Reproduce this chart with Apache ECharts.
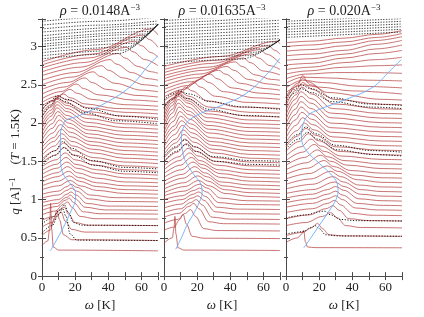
<!DOCTYPE html>
<html><head><meta charset="utf-8">
<script src="https://cdn.jsdelivr.net/npm/echarts@6/dist/echarts.min.js"></script>
<style>html,body{margin:0;padding:0;background:#fff}#c{width:424px;height:317px}</style>
</head><body><div id="c"></div>
<script>
// ---------- data (omega [K], q [1/A]) ----------
const densities = ['0.0148', '0.01635', '0.020'];
const xTickValues = [0, 20, 40, 60];
const yTickValues = [0, 0.5, 1, 1.5, 2, 2.5, 3];

// panel 1 red curves (flat omega,value pairs)
const p1Red = [
 [0,.40, 3.5,.46, 4.6,.62, 5.2,.95, 5.8,.62, 6.8,.38, 10,.34, 70,.33],
 [0,.53, 5,.60, 7.5,.76, 9,.86, 10.5,.74, 13,.54, 18,.475, 70,.465],
 [0,.64, 6,.70, 9.5,.80, 11.5,.84, 14,.72, 18,.61, 26,.575, 70,.57],
 [0,.73, 7,.78, 11,.87, 13.5,.90, 16,.81, 20,.70, 28,.665, 70,.66],
 [0,.80, 8,.85, 13,.94, 15.5,.97, 18,.90, 23,.78, 32,.75, 70,.745],
 [0,.86, 9,.91, 14,.99, 16.5,1.02, 19,.96, 25,.84, 35,.815, 70,.81],
 [0,.91, 9,.95, 15,1.03, 17,1.06, 20,1.01, 26,.90, 38,.865, 70,.86],
 [0,.96, 10,1.0, 15,1.07, 17.5,1.10, 20.5,1.06, 27,.95, 40,.915, 70,.91],
 [0,1.02, 10,1.06, 15,1.12, 17.5,1.15, 21,1.11, 28,1.01, 42,.975, 70,.97],
 [0,1.07, 10,1.11, 15,1.17, 17.5,1.20, 21,1.16, 29,1.06, 44,1.025, 70,1.02],
 [0,1.13, 10,1.18, 17,1.25, 23,1.18, 33,1.12, 50,1.08, 70,1.07],
 [0,1.18, 10,1.24, 16.5,1.31, 22.5,1.24, 33,1.17, 50,1.13, 70,1.12],
 [0,1.23, 9.5,1.30, 16,1.37, 22,1.29, 33,1.22, 50,1.18, 70,1.17],
 [0,1.28, 9,1.35, 15.5,1.43, 21.5,1.35, 33,1.28, 50,1.23, 70,1.22],
 [0,1.33, 9,1.41, 15,1.49, 21,1.41, 33,1.34, 50,1.285, 70,1.27],
 [0,1.38, 8.5,1.46, 14.5,1.55, 20.5,1.46, 33,1.39, 50,1.335, 70,1.32],
 [0,1.43, 8.5,1.52, 14,1.61, 20,1.52, 32,1.45, 50,1.39, 70,1.37],
 [0,1.48, 8,1.58, 13.5,1.68, 19.5,1.58, 32,1.50, 50,1.44, 70,1.42],
 [0,1.53, 8,1.64, 13,1.74, 19,1.64, 31,1.55, 50,1.49, 70,1.47],
 [0,1.58, 7.5,1.70, 12.5,1.80, 18.5,1.70, 31,1.61, 50,1.54, 70,1.52],
 [0,1.63, 7,1.76, 12,1.86, 18,1.76, 30,1.66, 50,1.59, 70,1.57],
 [0,1.68, 7,1.81, 11.5,1.92, 17.5,1.82, 30,1.71, 50,1.64, 70,1.62],
 [0,1.73, 6.5,1.87, 11,1.98, 17,1.88, 29,1.76, 50,1.69, 70,1.67],
 [0,1.78, 6,1.93, 10.5,2.04, 16.5,1.94, 29,1.81, 50,1.74, 70,1.72],
 [0,1.83, 6,1.99, 10,2.10, 16,2.00, 28,1.86, 50,1.79, 70,1.77],
 [0,1.88, 5.5,2.04, 9.5,2.15, 15.5,2.05, 28,1.91, 50,1.84, 70,1.82],
 [0,1.93, 5.5,2.09, 9,2.20, 15,2.10, 27,1.96, 50,1.89, 70,1.87],
 [0,1.98, 5.5,2.13, 9,2.24, 15,2.15, 27,2.01, 50,1.94, 70,1.92],
 [0,2.03, 5.5,2.17, 9,2.28, 15,2.19, 27,2.06, 50,1.99, 70,1.97],
 [0,2.08, 5.5,2.21, 9,2.31, 15,2.23, 27,2.11, 50,2.04, 70,2.02],
 [0,2.13, 5.5,2.24, 9,2.33, 15,2.26, 27,2.15, 50,2.09, 70,2.07],
 [0,2.18, 6,2.28, 9.5,2.35, 15.5,2.30, 28,2.20, 50,2.14, 70,2.12],
 [0,2.22, 7,2.30, 13,2.38, 17,2.33, 26,2.25, 45,2.19, 70,2.17],
 [0,2.27, 9,2.35, 17,2.44, 21,2.39, 30,2.31, 50,2.24, 70,2.22],
 [0,2.32, 11,2.41, 21,2.51, 25,2.45, 34,2.37, 55,2.30, 70,2.28],
 [0,2.38, 13,2.47, 26,2.59, 30,2.53, 39,2.44, 58,2.36, 70,2.34],
 [0,2.44, 15,2.53, 31,2.67, 35,2.61, 44,2.52, 60,2.43, 70,2.41],
 [0,2.50, 18,2.60, 36,2.75, 40,2.69, 49,2.59, 62,2.50, 70,2.48],
 [0,2.56, 20,2.66, 41,2.83, 45,2.77, 54,2.66, 64,2.58, 70,2.56],
 [0,2.62, 23,2.73, 46,2.91, 50,2.85, 58,2.74, 66,2.67, 70,2.65],
 [0,2.67, 25,2.79, 51,2.99, 55,2.93, 62,2.83, 70,2.75],
 [0,2.72, 28,2.85, 56,3.07, 60,3.01, 66,2.92, 70,2.86],
 [0,2.76, 30,2.90, 61,3.15, 65,3.09, 70,2.99],
 [0,2.80, 33,2.96, 66,3.23, 70,3.15]
];
const p1Dot = [
 [0,.56, 6,.66, 10,.80, 12.5,.88, 14.5,.78, 17,.55, 21,.47, 70,.465],
 [0,.68, 6,.76, 10.5,.86, 13.5,.93, 16,.83, 19,.70, 24,.665, 70,.66],
 [0,1.44, 8,1.58, 13,1.68, 19,1.58, 31,1.45, 50,1.37, 70,1.35],
 [0,1.50, 8,1.64, 12.5,1.76, 18,1.67, 30,1.51, 50,1.42, 70,1.40],
 [0,2.08, 5,2.22, 9,2.33, 14,2.28, 25,2.14, 45,2.03, 70,1.99],
 [0,2.16, 5,2.28, 9,2.36, 15,2.31, 28,2.19, 48,2.09, 70,2.05]
];
const p1Top = [
 [0,2.84, 46.1,2.909, 70,3.292], [0,2.88, 48.8,2.953, 70,3.292],
 [0,2.92, 51.6,2.997, 70,3.292], [0,2.96, 54.3,3.041, 70,3.292],
 [0,3.00, 57.1,3.086, 70,3.292], [0,3.03, 59.2,3.119, 70,3.292],
 [0,3.07, 61.9,3.163, 70,3.292], [0,3.10, 64.0,3.196, 70,3.292],
 [0,3.14, 66.8,3.24, 70,3.292], [0,3.19, 70,3.295],
 [0,3.23, 35,3.28, 70,3.335], [0,3.28, 35,3.33, 70,3.385], [0,3.33, 35,3.38, 70,3.435]
];
const p1Blue = [5.1,.33, 9.5,.5, 13.7,.67, 17.5,.85, 20.1,.99, 20.3,1.08, 18.7,1.16, 15.5,1.25, 12.7,1.34, 11.3,1.47, 11.1,1.6, 11.1,1.85, 12.5,1.97, 14.7,2.04, 22.8,2.10, 38.9,2.27, 52.9,2.47, 65,2.77, 70,2.88];

// panel 2
const p2Red = [
 [0,.43, 5,.50, 6,.62, 6.6,.78, 7.2,.55, 8.5,.37, 12,.34, 70,.335],
 [0,.60, 6,.64, 9.5,.74, 11.5,.81, 13.5,.68, 17,.52, 24,.495, 70,.49],
 [0,.69, 8,.74, 13,.82, 16,.87, 19,.78, 24,.62, 32,.595, 70,.59],
 [0,.77, 9,.82, 15,.91, 18,.95, 21,.88, 27,.71, 36,.685, 70,.68],
 [0,.83, 10,.88, 16,.96, 19.5,1.0, 23,.93, 29,.77, 40,.745, 70,.74],
 [0,.89, 10,.94, 17,1.02, 20.5,1.05, 24,.99, 31,.84, 42,.815, 70,.81],
 [0,.95, 11,1.0, 17.5,1.07, 21,1.10, 25,1.04, 32,.90, 45,.875, 70,.87],
 [0,1.0, 11,1.05, 18,1.12, 21.5,1.15, 25.5,1.10, 33,.96, 47,.935, 70,.93],
 [0,1.05, 12,1.11, 21.5,1.20, 26,1.15, 34,1.02, 50,.985, 70,.98],
 [0,1.09, 12.5,1.17, 21,1.25, 27,1.18, 37,1.08, 52,1.04, 70,1.03],
 [0,1.14, 12,1.22, 20.5,1.31, 26.5,1.24, 36.5,1.13, 52,1.09, 70,1.08],
 [0,1.19, 11.5,1.28, 19.5,1.37, 25.5,1.30, 35.5,1.18, 52,1.14, 70,1.13],
 [0,1.24, 11,1.33, 18.5,1.43, 24.5,1.35, 34.5,1.23, 52,1.19, 70,1.18],
 [0,1.29, 10.5,1.39, 17.5,1.49, 23.5,1.41, 34,1.29, 52,1.24, 70,1.23],
 [0,1.34, 10,1.45, 16.5,1.55, 22.5,1.46, 34,1.34, 52,1.29, 70,1.28],
 [0,1.39, 9.5,1.51, 15.5,1.61, 21.5,1.51, 33,1.39, 52,1.34, 70,1.33],
 [0,1.44, 9,1.56, 14.5,1.67, 20.5,1.57, 32,1.45, 52,1.39, 70,1.38],
 [0,1.49, 8,1.62, 13.5,1.73, 19.5,1.63, 31,1.50, 52,1.44, 70,1.43],
 [0,1.54, 7.5,1.68, 12.5,1.79, 18.5,1.69, 30,1.55, 52,1.49, 70,1.48],
 [0,1.59, 7,1.74, 12,1.85, 18,1.75, 30,1.61, 52,1.54, 70,1.53],
 [0,1.64, 7,1.79, 11.5,1.91, 17.5,1.81, 29,1.66, 52,1.59, 70,1.58],
 [0,1.69, 6.5,1.85, 11,1.97, 17,1.87, 29,1.71, 52,1.64, 70,1.63],
 [0,1.74, 6,1.91, 10.5,2.03, 16.5,1.93, 28,1.76, 52,1.69, 70,1.68],
 [0,1.79, 6,1.96, 10,2.09, 16,1.99, 28,1.81, 52,1.74, 70,1.73],
 [0,1.84, 5.5,2.02, 9.5,2.15, 15.5,2.05, 27,1.87, 52,1.79, 70,1.78],
 [0,1.89, 5.5,2.08, 9,2.21, 15,2.11, 27,1.92, 52,1.84, 70,1.83],
 [0,1.94, 5,2.13, 8.5,2.26, 14.5,2.16, 26,1.97, 52,1.89, 70,1.88],
 [0,1.99, 5,2.18, 8.5,2.31, 14.5,2.21, 26,2.02, 52,1.94, 70,1.93],
 [0,2.04, 5,2.23, 8.5,2.35, 14.5,2.26, 26,2.07, 52,1.99, 70,1.98],
 [0,2.09, 5,2.27, 8.5,2.38, 14.5,2.29, 26,2.12, 52,2.04, 70,2.03],
 [0,2.14, 5,2.30, 8.5,2.40, 14.5,2.32, 26,2.16, 52,2.09, 70,2.08],
 [0,2.19, 5.5,2.33, 9,2.42, 15,2.35, 27,2.21, 52,2.14, 70,2.13],
 [0,2.24, 6.5,2.33, 13,2.47, 17,2.42, 26,2.29, 45,2.21, 70,2.19],
 [0,2.29, 9,2.39, 18,2.53, 22,2.47, 31,2.35, 50,2.27, 70,2.25],
 [0,2.34, 11.5,2.44, 23,2.58, 27,2.53, 36,2.41, 55,2.33, 70,2.31],
 [0,2.39, 14,2.49, 28,2.64, 32,2.58, 41,2.46, 58,2.39, 70,2.37],
 [0,2.44, 16.5,2.54, 33,2.69, 37,2.64, 46,2.52, 61,2.45, 70,2.43],
 [0,2.49, 19,2.59, 38,2.74, 42,2.69, 51,2.57, 63,2.51, 70,2.49],
 [0,2.54, 21.5,2.64, 43,2.80, 47,2.74, 55,2.63, 65,2.57, 70,2.56],
 [0,2.58, 24,2.69, 48,2.85, 52,2.79, 60,2.68, 70,2.63],
 [0,2.62, 26.5,2.73, 53,2.905, 57,2.85, 64,2.75, 70,2.70],
 [0,2.66, 29,2.78, 58,2.96, 62,2.90, 70,2.78],
 [0,2.70, 31.5,2.82, 63,3.01, 67,2.95, 70,2.90],
 [0,2.74, 34,2.87, 68,3.07, 70,3.04]
];
const p2Dot = [
 [0,1.50, 7.5,1.63, 13,1.72, 19,1.63, 31,1.50, 52,1.46, 70,1.45],
 [0,1.56, 7,1.69, 12.5,1.78, 18.5,1.69, 30,1.56, 52,1.51, 70,1.50],
 [0,2.20, 5,2.31, 8.5,2.37, 14,2.32, 27,2.18, 48,2.10, 70,2.08],
 [0,2.30, 5,2.38, 9,2.42, 15,2.38, 28,2.28, 48,2.21, 70,2.18]
];
const p2Top = [
 [0,2.78, 46.6,2.836, 70,3.089], [0,2.82, 50.7,2.881, 70,3.089],
 [0,2.86, 54.9,2.926, 70,3.089], [0,2.90, 59.1,2.971, 70,3.089],
 [0,2.94, 63.2,3.016, 70,3.089], [0,2.98, 67.4,3.061, 70,3.089],
 [0,3.02, 70,3.104], [0,3.06, 70,3.144], [0,3.10, 70,3.184], [0,3.14, 70,3.224],
 [0,3.18, 70,3.264], [0,3.22, 70,3.304], [0,3.26, 70,3.344], [0,3.30, 70,3.384], [0,3.34, 70,3.424]
];
const p2Blue = [7.1,.35, 10.5,.5, 14,.67, 18.5,.84, 22,1.0, 23,1.08, 22.6,1.18, 17.5,1.34, 13,1.5, 11.5,1.6, 10.5,1.81, 12.5,1.97, 19.5,2.10, 33.6,2.22, 49.7,2.39, 63.8,2.68, 70,2.85];

// panel 3
const p3Red = [
 [0,.44, 7,.50, 9.5,.55, 10.7,.60, 11.7,.45, 13,.38, 18,.372, 70,.37],
 [0,.53, 10,.57, 16,.64, 19,.69, 22,.62, 26,.54, 35,.525, 70,.52],
 [0,.66, 12,.70, 22,.78, 27,.83, 31,.76, 36,.66, 45,.635, 70,.63],
 [0,.75, 14,.80, 24,.88, 28.5,.92, 32,.86, 38,.75, 50,.725, 70,.72],
 [0,.83, 16,.88, 25,.95, 29.5,.99, 33,.93, 40,.82, 52,.795, 70,.79],
 [0,.90, 16,.95, 25,1.01, 30,1.05, 34,1.00, 42,.89, 55,.865, 70,.86],
 [0,.96, 16,1.01, 25,1.07, 30,1.11, 34,1.06, 43,.95, 57,.925, 70,.92],
 [0,1.02, 16,1.07, 25,1.13, 30,1.17, 35,1.12, 44,1.01, 58,.985, 70,.98],
 [0,1.08, 16,1.13, 29.5,1.23, 35,1.17, 45,1.07, 58,1.045, 70,1.04],
 [0,1.14, 16,1.20, 28.5,1.30, 34.5,1.23, 45,1.13, 58,1.105, 70,1.10],
 [0,1.20, 15,1.27, 27,1.37, 33,1.30, 44,1.19, 58,1.165, 70,1.16],
 [0,1.27, 14,1.34, 25,1.44, 31,1.37, 43,1.26, 58,1.225, 70,1.22],
 [0,1.33, 13,1.41, 23,1.51, 29,1.43, 41,1.32, 58,1.285, 70,1.28],
 [0,1.39, 12,1.48, 21,1.58, 27,1.50, 39,1.38, 58,1.345, 70,1.34],
 [0,1.45, 11,1.55, 19,1.65, 25,1.56, 37,1.45, 58,1.405, 70,1.40],
 [0,1.51, 10,1.62, 17,1.72, 23,1.63, 35,1.51, 58,1.465, 70,1.46],
 [0,1.57, 9,1.69, 15,1.79, 21,1.70, 33,1.57, 58,1.525, 70,1.52],
 [0,1.63, 8,1.76, 13.5,1.86, 19.5,1.77, 32,1.63, 58,1.585, 70,1.58],
 [0,1.69, 7,1.83, 12,1.93, 18,1.84, 30,1.69, 58,1.645, 70,1.64],
 [0,1.75, 6.5,1.90, 11,2.00, 17,1.91, 29,1.76, 58,1.705, 70,1.70],
 [0,1.81, 6,1.97, 10,2.07, 16,1.98, 28,1.82, 58,1.765, 70,1.76],
 [0,1.87, 5.5,2.04, 9.5,2.14, 15.5,2.05, 27,1.88, 58,1.825, 70,1.82],
 [0,1.93, 5.5,2.11, 9,2.21, 15,2.12, 27,1.94, 58,1.885, 70,1.88],
 [0,1.99, 5.5,2.18, 9,2.28, 15,2.19, 27,2.00, 58,1.945, 70,1.94],
 [0,2.05, 5.5,2.25, 9,2.35, 15,2.26, 27,2.07, 58,2.005, 70,2.00],
 [0,2.11, 5.5,2.31, 9,2.41, 15,2.32, 27,2.13, 58,2.065, 70,2.06],
 [0,2.17, 6,2.37, 9.5,2.47, 15.5,2.38, 28,2.19, 58,2.125, 70,2.12],
 [0,2.23, 6,2.43, 10,2.53, 16,2.44, 29,2.25, 58,2.185, 70,2.18],
 [0,2.29, 6.5,2.49, 10,2.58, 15,2.50, 29,2.31, 58,2.245, 70,2.24],
 [0,2.34, 7,2.52, 10.2,2.62, 13,2.54, 25,2.40, 58,2.31, 70,2.30],
 [0,2.40, 10,2.50, 20,2.47, 40,2.42, 70,2.38],
 [0,2.46, 10,2.56, 22,2.53, 45,2.48, 70,2.46],
 [0,2.52, 10,2.60, 25,2.59, 50,2.56, 70,2.55],
 [0,2.58, 12,2.64, 30,2.66, 50,2.66, 70,2.65],
 [0,2.64, 12,2.68, 35,2.73, 55,2.75, 70,2.76],
 [0,2.70, 15,2.73, 35,2.79, 55,2.83, 70,2.86],
 [0,2.76, 15,2.78, 35,2.85, 55,2.91, 70,2.95],
 [0,2.82, 15,2.84, 35,2.90, 55,2.97, 70,3.02],
 [0,2.88, 15,2.90, 35,2.95, 55,3.03, 70,3.08],
 [0,2.94, 15,2.96, 35,3.01, 55,3.08, 70,3.13],
 [0,3.00, 15,3.02, 35,3.06, 55,3.12, 70,3.17],
 [0,3.05, 15,3.07, 35,3.11, 55,3.16, 70,3.21]
];
const p3Dot = [
 [0,.55, 10,.58, 15,.63, 17.5,.66, 20,.62, 24,.54, 32,.525, 70,.52],
 [0,.76, 12,.80, 20,.84, 23,.85, 27,.80, 33,.74, 42,.725, 70,.72],
 [0,1.66, 7.5,1.79, 13,1.88, 19,1.79, 31,1.65, 52,1.59, 70,1.57],
 [0,1.72, 7,1.85, 12,1.95, 18,1.86, 30,1.71, 52,1.64, 70,1.62],
 [0,2.27, 5,2.39, 9,2.45, 15,2.40, 28,2.28, 50,2.21, 70,2.19],
 [0,2.33, 5,2.44, 9,2.50, 15,2.45, 28,2.33, 50,2.25, 70,2.23]
];
const p3Top = [
 [0,3.12, 70,3.19], [0,3.155, 70,3.225], [0,3.19, 70,3.26], [0,3.225, 70,3.295],
 [0,3.26, 70,3.33], [0,3.295, 70,3.365], [0,3.33, 70,3.40]
];
const p3Blue = [10.7,.37, 15,.5, 20.3,.67, 26,.85, 30.4,1.01, 31.4,1.12, 31,1.2, 28.4,1.30, 20.3,1.47, 12.3,1.64, 9.3,1.81, 9.9,1.95, 13.3,2.10, 20.3,2.18, 36.4,2.31, 52.5,2.47, 62.6,2.68, 69.6,2.83];

// ---------- chart ----------
const panels = [
  {red: p1Red, dot: p1Dot, top: p1Top, blue: p1Blue},
  {red: p2Red, dot: p2Dot, top: p2Top, blue: p2Blue},
  {red: p3Red, dot: p3Dot, top: p3Top, blue: p3Blue}
];
function pairs(a){ const r=[]; for(let i=0;i<a.length;i+=2) r.push([a[i],a[i+1]]); return r; }
const FONT = 'Liberation Serif';
const frame = {color:'#4a4a4a', width:1};
const grids=[], xAxes=[], yAxes=[], series=[];
panels.forEach((p,i)=>{
  grids.push({left:42+122*i, top:19, width:116, height:268});
  const tick = {inside:true, length:4, lineStyle:frame};
  xAxes.push({gridIndex:i, type:'value', min:0, max:70, interval:10, position:'bottom',
    axisLine:{show:true, lineStyle:frame}, axisTick:tick, splitLine:{show:false},
    axisLabel:{margin:5, color:'#222', fontFamily:FONT, fontSize:13,
      formatter:v=> xTickValues.indexOf(v)>=0 ? String(v) : ''},
    name:'{i|ω} [K]', nameLocation:'middle', nameGap:14,
    nameTextStyle:{color:'#222', fontFamily:FONT, fontSize:13, rich:{i:{fontStyle:'italic', fontFamily:FONT, fontSize:13, color:'#222'}}}});
  xAxes.push({gridIndex:i, type:'value', min:0, max:70, interval:10, position:'top',
    axisLine:{show:true, lineStyle:frame}, axisTick:tick, axisLabel:{show:false}, splitLine:{show:false}});
  yAxes.push({gridIndex:i, type:'value', min:0, max:3.36, interval:0.5, position:'left',
    axisLine:{show:true, lineStyle:frame}, axisTick:tick, splitLine:{show:false},
    minorTick:{show:true, splitNumber:2, length:2, lineStyle:frame},
    axisLabel:{show:i===0, showMaxLabel:false, margin:5, color:'#222', fontFamily:FONT, fontSize:13,
      formatter:v=> yTickValues.indexOf(v)>=0 ? String(v) : ''}});
  yAxes.push({gridIndex:i, type:'value', min:0, max:3.36, interval:0.5, position:'right',
    axisLine:{show:true, lineStyle:frame}, axisTick:tick, splitLine:{show:false},
    minorTick:{show:true, splitNumber:2, length:2, lineStyle:frame}, axisLabel:{show:false}});
  const base = {type:'line', xAxisIndex:2*i, yAxisIndex:2*i, showSymbol:false, symbol:'none',
    silent:true, animation:false, clip:true};
  p.red.forEach(c=>series.push(Object.assign({}, base, {data:pairs(c), smooth:0.35, smoothMonotone:'x',
    lineStyle:{color:'#b43c3c', width:0.85, opacity:0.85}})));
  p.dot.forEach(c=>series.push(Object.assign({}, base, {data:pairs(c), smooth:0.35, smoothMonotone:'x',
    lineStyle:{color:'#000', width:1, type:[1.2,1.6], opacity:0.9}})));
  p.top.forEach(c=>series.push(Object.assign({}, base, {data:pairs(c), smooth:0.35, smoothMonotone:'x',
    lineStyle:{color:'#111', width:0.9, type:[1.3,1.4], opacity:0.9}})));
  series.push(Object.assign({}, base, {data:pairs(p.blue), smooth:0.4,
    lineStyle:{color:'#6aaef8', width:0.9}}));
});
const graphics = densities.map((d,i)=>({type:'text', x:100+122*i, y:11, style:{
  text:'{i|ρ} = '+d+'A{s|−3}', align:'center', verticalAlign:'middle', fill:'#222',
  font:'14px '+FONT,
  rich:{i:{fontStyle:'italic', fontSize:14, fontFamily:FONT, fill:'#222'}, s:{fontSize:9, fontFamily:FONT, verticalAlign:'top', padding:[0,0,6,0], fill:'#222'}}}}));
graphics.push({type:'text', x:16, y:162, rotation:Math.PI/2, style:{
  text:'{i|q} [A]{s|−1}    ({i|T} = 1.5K)', align:'center', verticalAlign:'middle', fill:'#222',
  font:'13px '+FONT,
  rich:{i:{fontStyle:'italic', fontSize:13, fontFamily:FONT, fill:'#222'}, s:{fontSize:9, fontFamily:FONT, verticalAlign:'top', padding:[0,0,6,0], fill:'#222'}}}});
const chart = echarts.init(document.getElementById('c'), null, {renderer:'canvas', width:424, height:317});
chart.setOption({animation:false, backgroundColor:'#fff', grid:grids, xAxis:xAxes, yAxis:yAxes, series:series, graphic:graphics});
</script></body></html>
